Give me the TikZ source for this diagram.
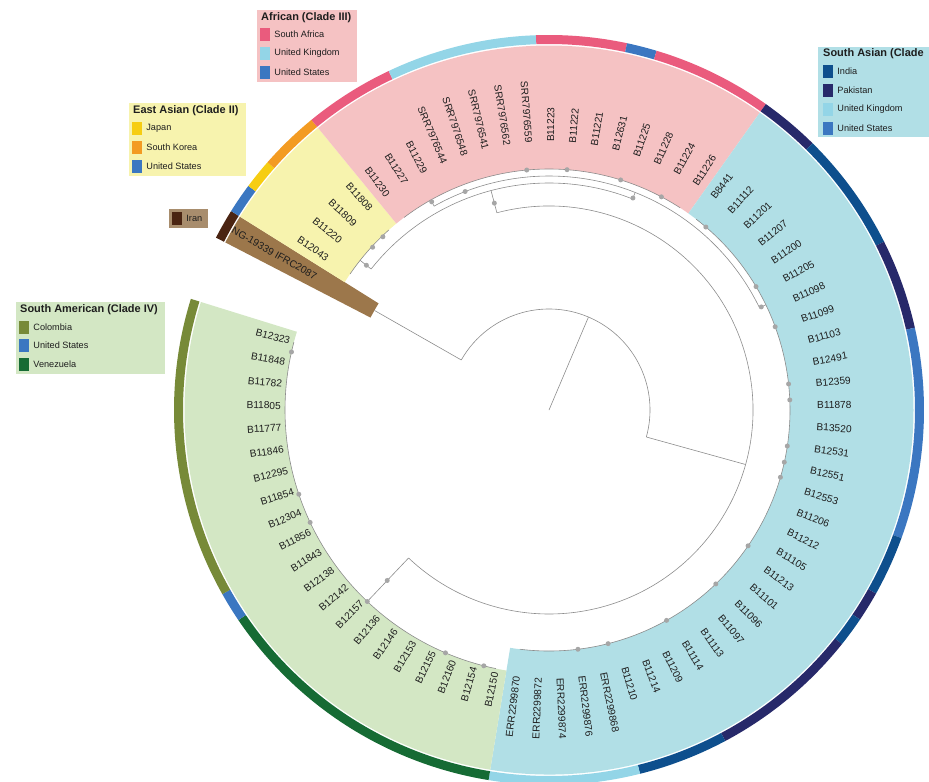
\documentclass[tikz,border=0pt]{standalone}
\usepackage{fontspec}
\setmainfont{Liberation Sans}
\usetikzlibrary{positioning}
\definecolor{brancol}{HTML}{8C8C8C}
\definecolor{dotcol}{HTML}{A6A6A6}
\definecolor{txtcol}{HTML}{1E1E1E}
\definecolor{iranwedge}{HTML}{9C774B}
\definecolor{eawedge}{HTML}{F7F3AE}
\definecolor{afwedge}{HTML}{F5C2C3}
\definecolor{sawedge}{HTML}{B1DFE6}
\definecolor{amwedge}{HTML}{D3E7C4}
\definecolor{irbox}{HTML}{A88D6D}
\definecolor{iranc}{HTML}{4A2412}
\definecolor{usac}{HTML}{3B77C1}
\definecolor{japc}{HTML}{F6CD12}
\definecolor{korc}{HTML}{F39B22}
\definecolor{zac}{HTML}{EA5B7D}
\definecolor{ukc}{HTML}{93D5E7}
\definecolor{indc}{HTML}{0E4F8D}
\definecolor{pakc}{HTML}{27296A}
\definecolor{colc}{HTML}{778A38}
\definecolor{venc}{HTML}{166B34}
\newcommand{\tipr}{241bp}
\newcommand{\labr}{268bp}
% colour, start angle, end angle, inner radius, outer radius
\newcommand{\ringpart}[5]{\fill[#1] (#2:#4) arc[start angle=#2, end angle=#3, radius=#4] -- (#3:#5) arc[start angle=#3, end angle=#2, radius=#5] -- cycle;}
\newcommand{\legentry}[5]{\node[legsq, fill=#4] (#1sq) at (#2,#3) {};
  \node[legtxt, right=4bp of #1sq] (#1txt) {#5};}

\begin{document}
\begin{tikzpicture}[x=1bp, y=1bp]
  \tikzset{branch/.style={draw=brancol, line width=0.6bp}}
  \tikzset{leaflab/.style={font=\fontsize{10.2}{12}\selectfont, text=txtcol, inner sep=0pt}}
  \tikzset{legtitle/.style={font=\bfseries\fontsize{11}{13}\selectfont, text=txtcol, inner sep=0pt, anchor=west}}
  \tikzset{legtxt/.style={font=\fontsize{9.2}{11}\selectfont, text=txtcol, inner sep=0pt}}
  \tikzset{legsq/.style={minimum width=10bp, minimum height=13bp, inner sep=0pt}}
  \useasboundingbox (0,0) rectangle (929,-782);

  \begin{scope}[shift={(549,-410)}]
    \ringpart{iranwedge}{152.63}{147.97}{201bp}{364.5bp}
    \ringpart{eawedge}{147.97}{129.31}{\tipr}{364.5bp}
    \ringpart{afwedge}{129.31}{54.67}{\tipr}{364.5bp}
    \ringpart{sawedge}{54.67}{-99.28}{\tipr}{364.5bp}
    \ringpart{amwedge}{-99.28}{-197.24}{264bp}{364.5bp}
    \foreach \a/\b/\c in {0/0/iranc, 1/1/usac, 2/2/japc, 3/4/korc, 5/7/zac, 8/12/ukc,
        13/15/zac, 16/16/usac, 17/20/zac, 21/22/pakc, 23/26/indc, 27/29/pakc,
        30/36/usac, 37/38/indc, 39/39/pakc, 40/40/indc, 41/45/pakc, 46/48/indc,
        49/53/ukc, 54/63/venc, 64/64/usac, 65/74/colc} {
      \pgfmathsetmacro\sa{150.3-4.665*(\a-0.5)}
      \pgfmathsetmacro\ea{150.3-4.665*(\b+0.5)}
      \ringpart{\c}{\sa}{\ea}{366bp}{375bp}
    }

    \draw[branch] (0,0) -- (67:101bp);
    \draw[branch] (150.3:101bp) arc[start angle=150.3, end angle=-15.5, radius=101bp];
    \draw[branch] (150.3:101bp) -- (150.3:201bp);
    \draw[branch] (-15.5:101bp) -- (-15.5:204bp);
    \draw[branch] (104.8:204bp) arc[start angle=104.8, end angle=-133.5, radius=204bp];
    \draw[branch] (-133.5:204bp) -- (-133.5:264bp);
    \draw[branch] (-101.61:264bp) arc[start angle=-101.61, end angle=-194.91, radius=264bp];
    \draw[branch] (104.8:204bp) -- (104.8:227bp);
    \draw[branch] (141.6:227bp) arc[start angle=141.6, end angle=68.4, radius=227bp];
    \draw[branch] (141.6:227bp) -- (141.6:\tipr);
    \draw[branch] (68.4:227bp) -- (68.4:234bp);
    \draw[branch] (119.4:234bp) arc[start angle=119.4, end angle=25.9, radius=234bp];
    \draw[branch] (119.4:234bp) -- (119.4:\tipr);
    \draw[branch] (25.9:234bp) -- (25.9:\tipr);
    \draw[branch] (145.64:\tipr) arc[start angle=145.64, end angle=131.64, radius=\tipr];
    \draw[branch] (126.98:\tipr) arc[start angle=126.98, end angle=57.0, radius=\tipr];
    \draw[branch] (52.34:\tipr) arc[start angle=52.34, end angle=-96.95, radius=\tipr];

    \foreach \p/\r in {141.6/233, 137.3/240, 133.8/240, 119.4/239, 111/234, 104.8/214,
        68.4/228, 95.3/241, 85.7/241, 72.7/241, 62.2/241, 49.4/241, 30.8/241,
        25.9/236, 20.2/241, 6.2/241, 2.4/241, -8.6/241, -12.5/241, -16.2/241,
        -34.3/241, -46.2/241, -60.8/241, -75.8/241, -83.1/241, -104.3/264,
        -113.1/264, -133.5/264, -133.5/235, -154.8/264, -161.4/264, -192.7/264}
      \fill[dotcol] (\p:\r bp) circle[radius=2.5bp];

    \foreach \lf [count=\i from 0] in {NG-19339 IFRC2087, B12043, B11220, B11809, B11808,
        B11230, B11227, B11229, SRR7976544, SRR7976548, SRR7976541, SRR7976562,
        SRR7976559, B11223, B11222, B11221, B12631, B11225, B11228, B11224, B11226,
        B8441, B11112, B11201, B11207, B11200, B11205, B11098, B11099, B11103,
        B12491, B12359, B11878, B13520, B12531, B12551, B12553, B11206, B11212,
        B11105, B11213, B11101, B11096, B11097, B11113, B11114, B11209, B11214,
        B11210, ERR2299868, ERR2299876, ERR2299874, ERR2299872, ERR2299870,
        B12150, B12154, B12160, B12155, B12153, B12146, B12136, B12157, B12142,
        B12138, B11843, B11856, B12304, B11854, B12295, B11846, B11777, B11805,
        B11782, B11848, B12323} {
      \pgfmathsetmacro\ang{150.3-4.665*\i}
      \pgfmathsetmacro\rot{\ang+180}
      \pgfmathtruncatemacro\flip{(\ang>90)||(\ang<-90)}
      \ifnum\flip=1
        \node[leaflab, anchor=east, rotate=\rot] (leaf\i) at (\ang:\labr) {\lf};
      \else
        \node[leaflab, anchor=west, rotate=\ang] (leaf\i) at (\ang:\labr) {\lf};
      \fi
    }
  \end{scope}

  \fill[afwedge] (257,-10) rectangle (357,-82);
  \node[legtitle] (aftitle) at (261,-17.5) {African (Clade III)};
  \legentry{af1}{265}{-34.5}{zac}{South Africa}
  \legentry{af2}{265}{-53.5}{ukc}{United Kingdom}
  \legentry{af3}{265}{-72.5}{usac}{United States}

  \fill[eawedge] (129,-103) rectangle (246,-176);
  \node[legtitle] (eatitle) at (133,-111) {East Asian (Clade II)};
  \legentry{ea1}{137}{-128.5}{japc}{Japan}
  \legentry{ea2}{137}{-147.5}{korc}{South Korea}
  \legentry{ea3}{137}{-166.5}{usac}{United States}

  \fill[irbox] (169,-209) rectangle (208,-228);
  \legentry{ir1}{177}{-218.5}{iranc}{Iran}

  \fill[sawedge] (818,-47) rectangle (929,-137);
  \node[legtitle] (satitle) at (823,-54) {South Asian (Clade};
  \legentry{sa1}{828}{-71.5}{indc}{India}
  \legentry{sa2}{828}{-90.5}{pakc}{Pakistan}
  \legentry{sa3}{828}{-109.5}{ukc}{United Kingdom}
  \legentry{sa4}{828}{-128.5}{usac}{United States}

  \fill[amwedge] (16,-302) rectangle (165,-374);
  \node[legtitle] (amtitle) at (20,-309.3) {South American (Clade IV)};
  \legentry{am1}{24}{-327}{colc}{Colombia}
  \legentry{am2}{24}{-345.5}{usac}{United States}
  \legentry{am3}{24}{-364.5}{venc}{Venezuela}
\end{tikzpicture}
\end{document}
